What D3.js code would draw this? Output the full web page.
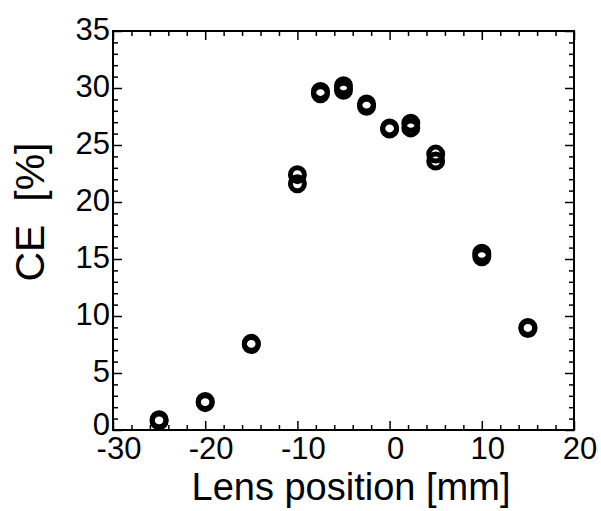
<!DOCTYPE html>
<html>
<head>
<meta charset="utf-8">
<script src="https://cdn.jsdelivr.net/npm/d3@7"></script>
<style>
  body { margin: 0; background: #fff; }
  text { font-family: "Liberation Sans", Arial, Helvetica, sans-serif; fill: #000; }
</style>
</head>
<body>
<svg id="chart" width="601" height="511"></svg>
<script>
// lens position (mm) and conversion efficiency (%) for two runs
const lensPos = [-25, -20, -15, -10, -7.5, -5, -2.5, 0, 2.3, 5, 10, 15];
const ceRun1 = [0.9, 2.5, 7.6, 22.4, 29.7, 30.2, 28.6, 26.5, 26.9, 24.2, 15.5, 9.0];
const ceRun2 = [0.8, 2.4, 7.5, 21.6, 29.5, 29.8, 28.4, 26.4, 26.5, 23.6, 15.2, 8.9];
const xTicks = [-30, -20, -10, 0, 10, 20];
const yTicks = [0, 5, 10, 15, 20, 25, 30, 35];

const svg = d3.select("#chart");
const m = { left: 113, top: 31, right: 574, bottom: 430 };

const x = d3.scaleLinear().domain([-30, 20]).range([m.left, m.right]);
const y = d3.scaleLinear().domain([0, 35]).range([m.bottom, m.top]);

const w = m.right - m.left;
const h = m.bottom - m.top;

// minor + major ticks on all four sides, pointing inward
const xMinor = d3.range(-30, 20.1, 2);
const yMinor = d3.range(0, 35.1, 1);

function tickLen(v, step) { return Math.abs(v % step) < 1e-6 ? 9 : 5; }

svg.append("g")
    .attr("transform", `translate(0,${m.bottom})`)
    .call(d3.axisBottom(x).tickValues(xMinor).tickSize(0).tickFormat(""))
    .call(g => g.select(".domain").remove())
    .call(g => g.selectAll(".tick line").attr("y2", d => -tickLen(d, 10)).attr("stroke-width", 1.5));
svg.append("g")
    .attr("transform", `translate(0,${m.top})`)
    .call(d3.axisTop(x).tickValues(xMinor).tickSize(0).tickFormat(""))
    .call(g => g.select(".domain").remove())
    .call(g => g.selectAll(".tick line").attr("y2", d => tickLen(d, 10)).attr("stroke-width", 1.5));
svg.append("g")
    .attr("transform", `translate(${m.left},0)`)
    .call(d3.axisLeft(y).tickValues(yMinor).tickSize(0).tickFormat(""))
    .call(g => g.select(".domain").remove())
    .call(g => g.selectAll(".tick line").attr("x2", d => tickLen(d, 5)).attr("stroke-width", 1.5));
svg.append("g")
    .attr("transform", `translate(${m.right},0)`)
    .call(d3.axisRight(y).tickValues(yMinor).tickSize(0).tickFormat(""))
    .call(g => g.select(".domain").remove())
    .call(g => g.selectAll(".tick line").attr("x2", d => -tickLen(d, 5)).attr("stroke-width", 1.5));

svg.append("rect")
    .attr("x", m.left).attr("y", m.top)
    .attr("width", w).attr("height", h)
    .attr("fill", "none").attr("stroke", "#000").attr("stroke-width", 2);

// tick labels
svg.append("g").selectAll("text")
    .data(xTicks)
    .join("text")
    .attr("x", d => x(d) + 6)
    .attr("y", 459)
    .attr("text-anchor", "middle")
    .attr("font-size", 31)
    .text(d => d);

svg.append("g").selectAll("text")
    .data(yTicks)
    .join("text")
    .attr("x", 110)
    .attr("y", d => y(d) + (d === 0 ? 5 : 9))
    .attr("text-anchor", "end")
    .attr("font-size", 31)
    .text(d => d);

// axis titles
svg.append("text")
    .attr("x", 351)
    .attr("y", 500)
    .attr("text-anchor", "middle")
    .attr("font-size", 38)
    .text("Lens position [mm]");

svg.append("text")
    .attr("transform", "translate(44,212) rotate(-90)")
    .attr("text-anchor", "middle")
    .attr("font-size", 41)
    .attr("xml:space", "preserve")
    .text("CE  [%]");

// data points: open circles
const pts = lensPos.map((p, i) => [p, ceRun1[i]])
    .concat(lensPos.map((p, i) => [p, ceRun2[i]]));

svg.append("g").selectAll("circle")
    .data(pts)
    .join("circle")
    .attr("cx", d => x(d[0]))
    .attr("cy", d => y(d[1]))
    .attr("r", 7)
    .attr("fill", "none")
    .attr("stroke", "#000")
    .attr("stroke-width", 5);
</script>
</body>
</html>
